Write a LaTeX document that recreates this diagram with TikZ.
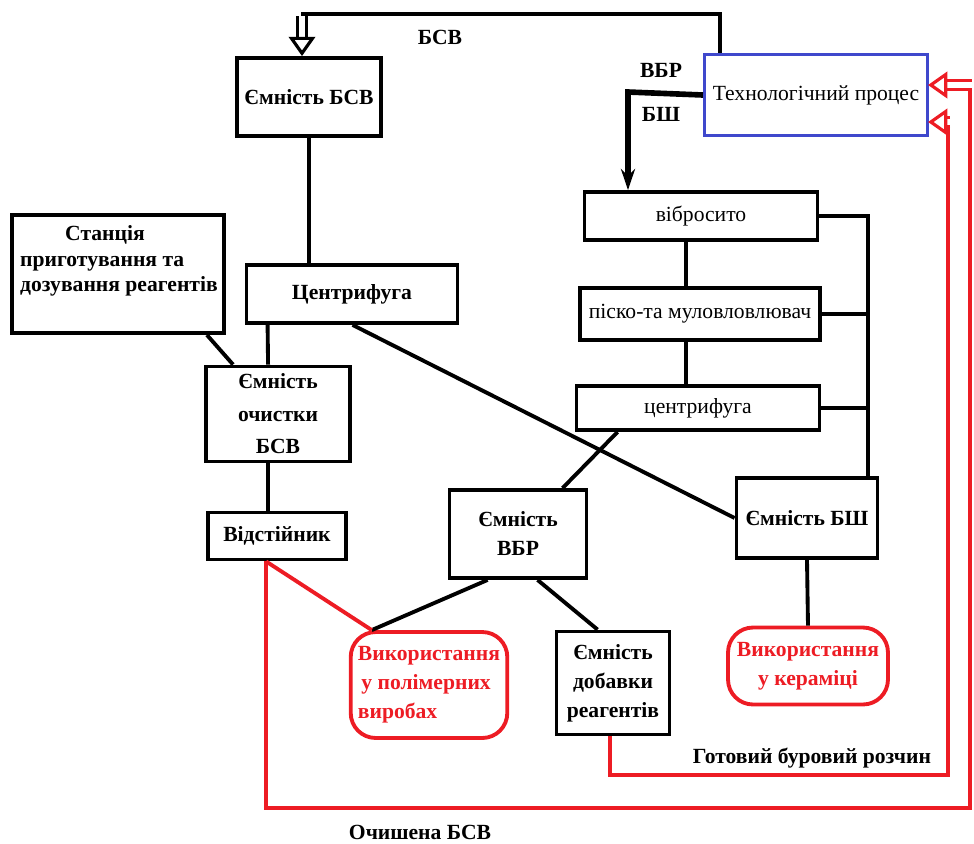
\documentclass[tikz,border=0pt]{standalone}
\usepackage{fontspec}
\setmainfont{Liberation Serif}
\usetikzlibrary{arrows.meta}
\definecolor{pred}{RGB}{237,28,36}
\definecolor{pblue}{RGB}{63,72,204}
\tikzset{
  box/.style={draw, line width=2.2pt, fill=white, font=\bfseries, align=center},
  plainbox/.style={box, font=\normalfont},
  bluebox/.style={draw=pblue, line width=1.8pt, align=center},
  redbox/.style={draw=pred, line width=2.2pt, rounded corners=0.5cm, text=pred, font=\bfseries, align=left},
  link/.style={line width=2.2pt},
  redlink/.style={draw=pred, line width=2.2pt},
  hollow/.style={double=white, double distance=3.5pt, line width=1.8pt, -{Triangle[open, fill=white, length=11pt, width=15pt, line width=1.8pt]}},
  lbl/.style={font=\bfseries},
}

\begin{document}
\begin{tikzpicture}[x=0.02cm, y=-0.02cm, node font=\fontsize{12.3}{16.5}\selectfont]
  \useasboundingbox (0,0) rectangle (974,843);

  % left column
  \node[box, minimum width=2.76cm, minimum height=1.56cm] (esv) at (309,97) {Ємність БСВ};
  \node[box, minimum width=4.22cm, minimum height=1.16cm] (cf) at (352,294) {Центрифуга};
  \node[box, minimum width=4.24cm, minimum height=2.36cm] (st) at (118,274) {};
  \node[font=\bfseries, align=left] (sttext) at (119,261) {\hspace*{0.9cm}Станція\\[-2pt]приготування та\\[-2pt]дозування реагентів};
  \node[box, minimum width=2.88cm, minimum height=1.9cm] (och) at (278,414) {Ємність\\[2pt]очистки\\[2pt]БСВ};
  \node[box, minimum width=2.76cm, minimum height=0.94cm] (vid) at (277,536) {Відстійник};

  % right column
  \node[bluebox, minimum width=4.46cm, minimum height=1.62cm] (tp) at (816,95) {Технологічний процес};
  \node[plainbox, minimum width=4.66cm, minimum height=0.96cm] (vib) at (701,216) {вібросито};
  \node[plainbox, minimum width=4.8cm, minimum height=1.04cm] (pis) at (700,314) {піско-та муловловлювач};
  \node[plainbox, minimum width=4.86cm, minimum height=0.88cm] (cf2) at (698,408) {центрифуга};
  \node[box, minimum width=2.82cm, minimum height=1.6cm] (bsh) at (807,518) {Ємність БШ};
  \node[box, minimum width=2.74cm, minimum height=1.76cm] (vbr) at (518,534) {Ємність\\ВБР};

  % bottom row
  \node[redbox, minimum width=2.9cm, minimum height=2.12cm] (pol) at (429,685) {Використання\\\hspace*{2pt}у полімерних\\виробах};
  \node[box, minimum width=2.26cm, minimum height=2.06cm] (dob) at (613,683) {Ємність\\добавки\\реагентів};
  \node[redbox, align=center, minimum width=3.2cm, minimum height=1.54cm] (ker) at (808,666) {Використання\\у кераміці};

  % labels
  \node[lbl] (lbsv) at (440,37) {БСВ};
  \node[lbl] (lvbr) at (661,70) {ВБР};
  \node[lbl] (lbsh) at (661,114) {БШ};
  \node[lbl] (lgot) at (812,758) {Готовий буровий розчин};
  \node[lbl] (lochi) at (420,832) {Очишена БСВ};

  % bend points
  \coordinate (topR) at (720,14);
  \coordinate (topL) at (302,14);
  \coordinate (vbrbend) at (628,92);
  \coordinate (bus) at (868,208);
  \coordinate (rr1) at (948,775);
  \coordinate (rr2) at (970,808);
  \coordinate (in1) at (928,85);
  \coordinate (in2) at (928,122);

  % black links
  \draw[link] (topR |- tp.north) -- (topR) -- ([xshift=-0.03cm]topL);
  \draw[hollow] ([yshift=-0.04cm]topL) -- (topL |- esv.north);
  \draw[line width=3.2pt, -{Stealth[length=12pt, width=8pt]}] (tp.west) -- (vbrbend) -- (vbrbend |- vib.north);
  \draw[link] (esv.south) -- (esv.south |- cf.north);
  \draw[link] ([xshift=-0.38cm]st.south east) -- ([xshift=0.58cm]och.north west);
  \draw[link] ([xshift=0.46cm]cf.south west) -- ([xshift=1.28cm]och.north west);
  \draw[link] ([xshift=2.16cm]cf.south west) -- (bsh.west);
  \draw[link] ([xshift=-0.2cm]och.south) -- ([xshift=-0.2cm]och.south |- vid.north);
  \draw[link] ([xshift=-0.3cm]vib.south) -- ([xshift=-0.3cm]vib.south |- pis.north);
  \draw[link] ([xshift=-0.28cm]pis.south) -- ([xshift=-0.28cm]pis.south |- cf2.north);
  \draw[link] (vib.east) -- (vib.east -| bus) -- (bus |- bsh.north);
  \draw[link] (pis.east) -- (pis.east -| bus);
  \draw[link] (cf2.east) -- (cf2.east -| bus);
  \draw[link] ([xshift=0.86cm]cf2.south west) -- ([xshift=2.3cm]vbr.north west);
  \draw[link] ([xshift=0.8cm]vbr.south west) -- ([xshift=0.46cm]pol.north west);
  \draw[link] ([xshift=1.8cm]vbr.south west) -- ([xshift=0.86cm]dob.north west);
  \draw[link] (bsh.south) -- (ker.north);

  % red links
  \draw[redlink] ([xshift=-0.06cm]dob.south) -- ([xshift=-0.06cm]dob.south |- rr1) -- (rr1) -- (rr1 |- in2);
  \draw[hollow, draw=pred] ([xshift=0.04cm]rr1 |- in2) -- (in2);
  \draw[redlink] ([xshift=1.2cm]vid.south west) -- ([xshift=1.2cm]vid.south west |- rr2) -- (rr2) -- (rr2 |- in1);
  \draw[hollow, draw=pred] ([xshift=0.04cm]rr2 |- in1) -- (in1);
  \draw[redlink] ([xshift=1.2cm]vid.south west) -- ([xshift=0.46cm]pol.north west);
\end{tikzpicture}
\end{document}
